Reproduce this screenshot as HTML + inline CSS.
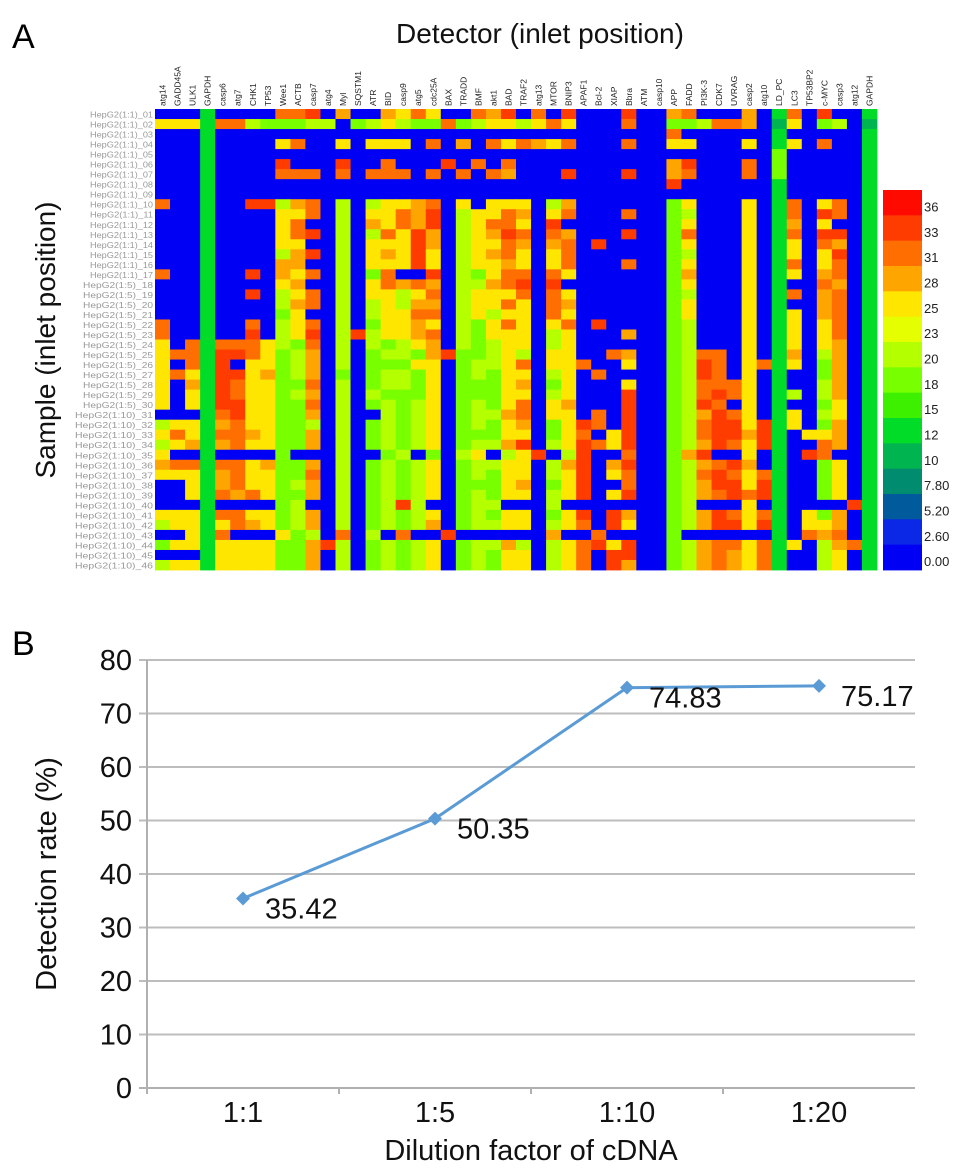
<!DOCTYPE html>
<html><head><meta charset="utf-8">
<style>
body{margin:0;background:#fff;}
svg{display:block;font-family:"Liberation Sans",Arial,sans-serif;}
</style></head>
<body>
<svg id="fig" width="969" height="1175" viewBox="0 0 969 1175">
  <text x="12" y="48" font-size="34">A</text>
  <text x="540" y="43" font-size="28" text-anchor="middle" fill="#111">Detector (inlet position)</text>
  <text transform="translate(55,340) rotate(-90)" font-size="28" text-anchor="middle" fill="#111">Sample (inlet position)</text>
  <g id="heat"></g>
  <g id="collabels"></g>
  <g id="rowlabels"></g>
  <g id="cbar"></g>

  <text x="12" y="655" font-size="34">B</text>
  <g id="grid"></g>
  <g id="yticks"></g>
  <g id="xticks"></g>
  <g id="series"></g>
  <text transform="translate(56,874) rotate(-90)" font-size="29" text-anchor="middle" fill="#111">Detection rate (%)</text>
  <text x="531" y="1160" font-size="29" text-anchor="middle" fill="#111">Dilution factor of cDNA</text>
</svg>
<script>
// ---------- Heatmap data ----------
const detectors = ["atg14","GADD45A","ULK1","GAPDH","casp6","atg7","CHK1","TP53","Wee1","ACTB","casp7","atg4","Myl","SQSTM1","ATR","BID","casp9","atg5","cdc25A","BAX","TRADD","BMF","akt1","BAD","TRAF2","atg13","MTOR","BNIP3","APAF1","Bcl-2","XIAP","Bbra","ATM","casp10","APP","FADD","PI3K-3","CDK7","UVRAG","casp2","atg10","LD_PC","LC3","TP53BP2","c-MYC","casp3","atg12","GAPDH"];
const levelCodes = {B:0,D:10,G:14,g:19,l:22,y:25,Y:28,o:31,r:35};
const heatRows = [
"BBBGBBBB oorBYBBY yoyBBoYr BoBrBBBr BBYoBBBY BGoBrBBG",
"yyyGoolg ggllBgly lggoglyy lyoyBBBo BBgglooY BDyBglBD",
"BBBGBBBB BBBBBBBB BBBBBBBB BBBBBBBB BBoBBBBB BGBBBBBG",
"BBBGBBBB yoBByByy yBoBYBoy oYyoBBBo BByyBBBy BGyBoBBG",
"BBBGBBBB BBBBBBBB BBBBBBBB BBBBBBBB BBBBBBBB BgBBBBBG",
"BBBGBBBB rBBBrBBo BBBrBoBo BBBBBBBB BBYrBBBo BgBBBBBG",
"BBBGBBBB oooBoBoo oBoBoBoY BBBrBBBr BBYoBBBo BgBBBBBG",
"BBBGBBBB BBBBBBBB BBBBBBBB BBBBBBBB BBrBBBBB BGBBBBBG",
"BBBGBBBB BBBBBBBB BBBBBBBB BBBBBBBB BBBBBBBB BGBBBBBG",
"oBBGBBrr lYoBlBly yYoByByy yBlYBBBB BBgyBBBy BGoByoBG",
"BBBGBBBB yyoBlByy oYrBlyyo YByoBBBo BBglBBBy BGoBroBG",
"BBBGBBBB yoBBlBYy oYrBlyoo yBrBBBBB BBgyBBBy BGYByBBG",
"BBBGBBBB yorBlBlo yrYBlyYr oBoYBBBr BBgoBBBy BGoBrrBG",
"BBBGBBBB yyBBlByy yrYBlyyo YBYoBrBB BBgyBBBy BGyBoYBG",
"BBBGBBBB lYrBlByY yryBlyYo yByoBBBB BBglBBBy BGyByrBG",
"BBBGBBBB YYBBlByy yryBlyyY yByoBBBo BBgyBBBy BGoByoBG",
"oBBGBBrB YyoBlBgo BBrBlgyo oBoyBBBB BBgYBBBy BGyBYoBG",
"BBBGBBBB yYBBlByo YoYBllYo rBrBBBBB BBgyBBBy BGBBoYBG",
"BBBGBBrB lyoBlByy lyoBlyyy oBoyBBBB BBglBBBy BGoBYoBG",
"BBBGBBBB lYoBlBly lYYBlyyo yBoYBBBB BBgyBBBy BGBBYoBG",
"BBBGBBBB gyBBlBly yooBlyly yBoyBBBB BBgyBBBy BGyBYoBG",
"oBBGBBoB lyoBlBgy yYyBlgyo yByoBrBB BBglBBBy BGyByoBG",
"oBBGBBrB lyrBlrly yYoBlgyy yBlyBBBY BBglBBBy BGyByoBG",
"yBoGoooy lgoBlBlg lyYBlgly yBlyBBBB BBglBBBy BGyByYBG",
"yooGrroy glYBlBgl lgYrggly lByyBBoY BBglooBy BGYBlYBG",
"yBoGrByy glYBlBgg gyyBglly oByyoBBy BBglroBy oGyBgYBG",
"yoyGrryY glYBgBgl lgyBglgy yBlyBoBB BBglroBy BGBBgYBG",
"yBYGroyy ggoBlBgl lgyBgggy YBgyBBBy BBgloooy BGBBlYBG",
"yByGroyy glYBlBlg ggyBgggy yBlyBBBr BBgloroy BGlBlYBG",
"yByGrryy ggoBlBgl glyBglgy oByYBBBr BBglroBy BGBBgyBG",
"BBBGoryy ggYBlBBl glyBgllY oByyBoBr BBglYroy BGyBlyBG",
"lyyGYoyy gglBlBgl glyBglgy YBgyroBr BBglorry rGyBgYBG",
"yoyGooYy ggYBlBgl glyBgggy yBgyoByr BBglorrY rGByyYBG",
"lyYGYoyy ggYBlBgl glyBgllY rBlyroyr BBglYroy rGBBoYBG",
"yBBGBBBB gBBBlBBg lBgBlyBl yrBlrBBo BBgYrBBy BGBroBBG",
"YooGooyY ggYBlBgl glyBglly yBlYrBYr BBglYorY BGBBgyBG",
"yyyGYoyy ggoBlBgl glyBglgy yBlyrByo BBgloroy oGBBgyBG",
"BByGYoyy glYBlBgl glyBgggy YBgyrBBo BBglYrry rGBBgyBG",
"BByGoYoy ggYBlBgl glyBglgy yBlyrByr BBglYoro rGBBgyBG",
"BBBGBBBB glBBlBgl rlBBgllB BBlBBBBB BBglBBBy BGBBBBrG",
"yyyGooyy glYBlBgl glyBglgy yBgyrBrY BBglYroy oGBygYBG",
"lyyGyoYy glYBlBgl glYBglly yBlyoBry BBglYrry rGByyYBG",
"BByGoBBB yglBoBlB oBBrBBBB BBYBBoBB BBgBBBBB BGBoYoBG",
"gyyGyyyy ggYrlBgl glyBgllY lBlyoryr BBglYooy oGyBlYoG",
"BBBGyyyy ggYBlBgl glyBglgy yBlyoBrr BBglYoYy oGBBlyBG",
"lyyGyyyy ggYBlBgl glyBglgy yBlyoBrY BBglYoYy oGBBlyBG"
];
const scaleTicks = ["36","33","31","28","25","23","20","18","15","12","10","7.80","5.20","2.60","0.00"];
const scaleValues = [36,33,31,28,25,23,20,18,15,12,10,7.8,5.2,2.6,0];
const scaleColors = ["#ff0a00","#ff3c00","#ff6e00","#ffa500","#ffe600","#e6ff00","#b4ff00","#78ff00","#3cf000","#00dc28","#00b450","#008c6e","#005a9c","#0a28e6","#0000f5"];

// ---------- Line chart data ----------
const dilutions = ["1:1","1:5","1:10","1:20"];
const detectionRates = [35.42,50.35,74.83,75.17];
const yTickValues = [0,10,20,30,40,50,60,70,80];

const NS="http://www.w3.org/2000/svg";
function mk(tag,attrs,parent){const e=document.createElementNS(NS,tag);for(const k in attrs)e.setAttribute(k,attrs[k]);parent.appendChild(e);return e;}

// heatmap geometry
const hx0=155,hx1=877,hy0=109,hy1=570;
const rows=heatRows.map(r=>r.replace(/ /g,"").split("").map(c=>levelCodes[c]));
const nC=detectors.length,nR=rows.length;
const cw=(hx1-hx0)/nC,ch=(hy1-hy0)/nR;
function colorFor(v){for(let i=0;i<scaleValues.length;i++){if(v>=scaleValues[i]-1e-9)return scaleColors[i];}return scaleColors[scaleColors.length-1];}
const heat=document.getElementById("heat");
rows.forEach((row,ri)=>{row.forEach((v,ci)=>{
  const r=mk("rect",{x:(hx0+ci*cw).toFixed(2),y:(hy0+ri*ch).toFixed(2),width:(cw+0.4).toFixed(2),height:(ch+0.4).toFixed(2),fill:colorFor(v)},heat);
  
  
});});
const cl=document.getElementById("collabels");
detectors.forEach((d,ci)=>{
  const x=hx0+ci*cw+cw/2+3;
  const t=mk("text",{transform:`translate(${x.toFixed(1)},106) rotate(-90)`,"font-size":"8.5",fill:"#222"},cl);
  t.textContent=d;
  
  
});
const rl=document.getElementById("rowlabels");
for(let ri=0;ri<nR;ri++){
  const dil=ri<17?"1:1":(ri<30?"1:5":"1:10");
  const x=ri<17?90:(ri<30?83:75);
  const t=mk("text",{x:x,y:(hy0+ri*ch+ch*0.85).toFixed(1),"font-size":"8",fill:"#999",textLength:(153-x),lengthAdjust:"spacingAndGlyphs"},rl);
  t.textContent="HepG2("+dil+")_"+String(ri+1).padStart(2,"0");
  
  
}
// color bar
const cb=document.getElementById("cbar");
const by0=190,by1=570,bh=(by1-by0)/scaleColors.length;
scaleColors.forEach((c,i)=>{
  const r=mk("rect",{x:883,y:(by0+i*bh).toFixed(2),width:39,height:(bh+0.4).toFixed(2),fill:c},cb);
  
  
  const t=mk("text",{x:924,y:(by0+i*bh+bh*0.85).toFixed(1),"font-size":"13",fill:"#222"},cb);
  t.textContent=scaleTicks[i];
  
  
});

// line chart
const px0=147,px1=915,py0=1088,pyTop=660,ymax=80;
const yS=v=>py0-(v/ymax)*(py0-pyTop);
const bw=(px1-px0)/dilutions.length;
const xS=i=>px0+bw*(i+0.5);
const grid=document.getElementById("grid"),yt=document.getElementById("yticks"),xt=document.getElementById("xticks");
yTickValues.forEach(v=>{
  const l=mk("line",{x1:px0-8,x2:px1,y1:yS(v),y2:yS(v),stroke:v===0?"#b0b0b0":"#bdbdbd","stroke-width":2},grid);
  
  
  const t=mk("text",{x:132,y:yS(v)+10,"font-size":29,"text-anchor":"end",fill:"#111"},yt);
  t.textContent=v;
  
  
});
const ax=mk("line",{x1:px0,x2:px0,y1:pyTop,y2:py0+6,stroke:"#b0b0b0","stroke-width":2},grid);


dilutions.forEach((d,i)=>{
  if(i>0){const tk=mk("line",{x1:px0+bw*i,x2:px0+bw*i,y1:py0,y2:py0+6,stroke:"#b0b0b0","stroke-width":2},xt);
  
  }
  const t=mk("text",{x:xS(i),y:1122,"font-size":29,"text-anchor":"middle",fill:"#111"},xt);
  t.textContent=d;
  
  
});
const ser=document.getElementById("series");
const pl=mk("polyline",{points:detectionRates.map((v,i)=>xS(i)+","+yS(v)).join(" "),fill:"none",stroke:"#5b9bd5","stroke-width":3},ser);


detectionRates.forEach((v,i)=>{
  const x=xS(i),y=yS(v);
  const m=mk("polygon",{points:`${x},${y-7} ${x+7},${y} ${x},${y+7} ${x-7},${y}`,fill:"#5b9bd5"},ser);
  
  
  const t=mk("text",{x:x+22,y:y+20,"font-size":29,fill:"#111"},ser);
  t.textContent=v.toFixed(2);
  
  
});
</script>
</body></html>
